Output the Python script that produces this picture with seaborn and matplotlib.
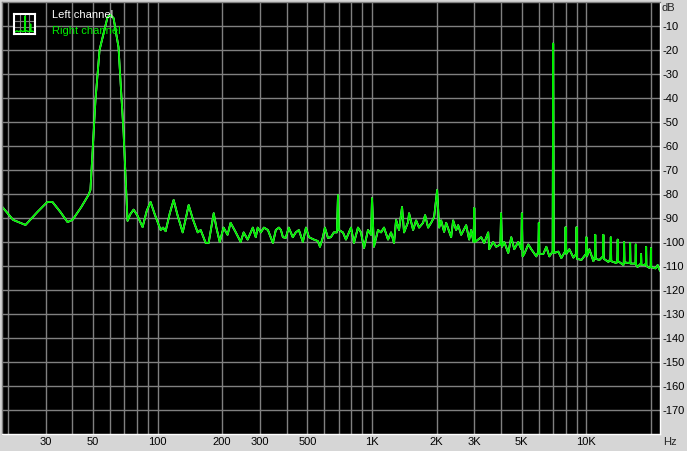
import matplotlib
matplotlib.use("Agg")
import matplotlib.pyplot as plt
import seaborn as sns
import pandas as pd
from matplotlib.ticker import FixedLocator, NullFormatter

# spectrum (Hz, dB)
freq_hz = [
    18.9, 21.2, 24.2, 27.5, 30.6, 32.3, 35.2, 38.0, 40.1, 44.0, 47.6, 48.6, 51.3, 53.6, 58.4, 60.3, 62.3,
    65.7, 69.4, 72.4, 74.5, 77.3, 80.5, 85.1, 89.0, 92.7, 97.0, 103.3, 106, 109, 114, 118.8, 124, 130.9,
    135.5, 139.6, 146, 153.8, 158.8, 167.6, 173, 178, 182.7, 188, 194.9, 203, 212, 219, 231, 244, 252,
    263, 278, 287, 293,
    303, 313, 327, 345, 356, 368, 376, 384, 396, 409, 427, 441, 456, 476, 492, 508, 536,
    559, 572, 590, 603, 623, 643, 664, 686, 694, 701, 732, 756, 798, 824, 860, 888, 918,
    958, 990, 1000, 1021, 1067, 1102, 1138, 1188, 1227, 1267, 1295, 1337, 1381, 1411,
    1473, 1489, 1555, 1606, 1658, 1731, 1769, 1827, 1887, 1949, 2013, 2057, 2101, 2170,
    2218, 2340, 2390, 2469, 2523, 2606, 2750, 2840, 2901, 2975, 3000, 3025, 3129, 3231,
    3337, 3484, 3522, 3677, 3797, 3970, 4000, 4040, 4139, 4321, 4462, 4609, 4812, 4970,
    5000, 5040, 5131, 5358, 5534, 5841, 5970, 6000, 6040, 6297, 6504, 6717, 6960, 7000,
    7050, 7400, 7642, 7950, 8000, 8060, 8328, 8697, 8950, 9000, 9050, 9476, 9950, 10000,
    10060, 10327, 10782, 10950, 11000, 11060, 11500, 11950, 12000, 12060, 12670, 12950,
    13000, 13060, 13812, 13950, 14000, 14060, 14891, 14950, 15000, 15060, 15885, 15950,
    16000, 16060, 16950, 17000, 17060, 17312, 17950, 18000, 18060, 18664, 18950, 19000,
    19060, 19700, 19950, 20000, 20060, 21000, 21500, 22050,
]
level_db = [
    -85.5, -90.8, -92.9, -87.5, -83.3, -83.3, -87.5, -91.7, -90.8, -85.5, -80.4, -78.3, -40.8, -20.0, -6.3, -5.4, -6.7,
    -18.8, -54.6, -91.2, -88.5, -86.5, -89.0, -93.8, -87.0, -83.3, -88.5, -95.0, -94.0, -95.5, -88.0, -82.5, -89.0, -96.0,
    -90.0, -84.6, -90.5, -96.0, -95.0, -100.4, -100.4, -94.0, -88.0, -94.0, -100.0, -94.0, -97.0, -92.0, -95.8, -100.0, -96.0,
    -99.0, -94.0, -98.0, -94.0,
    -96.0, -94.0, -95.0, -100.4, -95.0, -94.0, -95.0, -98.0, -98.3, -94.0, -98.0, -96.0, -95.0, -100.0, -94.0, -98.0, -99.0,
    -99.6, -102.0, -98.0, -94.0, -98.3, -98.0, -96.0, -96.0, -80.4, -95.0, -96.0, -99.0, -94.0, -100.4, -94.0, -96.0, -102.5,
    -95.0, -97.0, -81.7, -102.0, -95.0, -96.0, -94.0, -99.0, -96.0, -100.4, -90.8, -95.0, -85.4, -96.0,
    -91.7, -88.0, -95.0, -91.0, -94.0, -92.0, -88.8, -94.0, -92.0, -89.6, -78.3, -94.0, -91.0, -95.8,
    -92.0, -98.0, -91.0, -95.0, -93.0, -97.0, -93.0, -99.0, -95.0, -100.0, -85.8, -100.0, -99.0, -98.0,
    -100.4, -96.0, -103.0, -100.0, -102.0, -101.0, -88.0, -102.0, -100.0, -104.6, -98.0, -103.0, -100.0, -103.0,
    -88.0, -106.0, -105.0, -101.0, -103.0, -106.0, -104.0, -92.0, -105.0, -105.0, -102.0, -106.0, -104.0, -17.3,
    -104.6, -104.0, -106.7, -104.0, -93.8, -105.0, -103.0, -106.5, -105.0, -93.8, -107.0, -107.5, -105.0, -98.0,
    -106.0, -103.0, -108.0, -106.0, -97.0, -107.0, -107.5, -106.0, -97.0, -107.0, -108.3, -107.0,
    -98.0, -108.0, -108.8, -107.0, -99.0, -108.0, -109.6, -108.0, -100.0, -108.5, -108.8, -108.0,
    -100.4, -109.0, -109.0, -101.0, -109.5, -110.4, -109.0, -105.0, -109.5, -109.6, -109.0, -102.0,
    -110.0, -110.8, -110.0, -102.5, -110.5, -111.0, -109.6, -112.0,
]

# tiny spectrum drawn inside the legend icon
icon_x = [0, 1, 2, 3, 4, 5, 5.2, 5.4, 6, 7, 8, 8.2, 8.4, 9, 10]
icon_y = [1.0, 1.6, 1.1, 1.8, 1.2, 1.5, 9.0, 1.3, 1.7, 1.2, 1.4, 5.0, 1.2, 1.5, 1.1]

x_major = [30, 50, 100, 200, 300, 500, 1000, 2000, 3000, 5000, 10000]
x_labels = ["30", "50", "100", "200", "300", "500", "1K", "2K", "3K", "5K", "10K"]
x_grid = [20, 30, 40, 50, 60, 70, 80, 90, 100, 200, 300, 400, 500, 600, 700, 800, 900,
          1000, 2000, 3000, 4000, 5000, 6000, 7000, 8000, 9000, 10000, 20000]
y_ticks = list(range(-170, 0, 10))

GREEN = "#00f000"
GRID = "#808080"

sns.set_style("dark", {"axes.facecolor": "black", "figure.facecolor": "#d6d6d6",
                       "grid.color": GRID})
plt.rcParams["font.family"] = ["Liberation Sans", "DejaVu Sans"]
plt.rcParams["font.size"] = 8

df = pd.DataFrame({"freq": freq_hz, "db": level_db})

W, H = 687, 451
fig = plt.figure(figsize=(W / 100, H / 100), dpi=100)
ax = fig.add_axes([2 / W, 17 / H, 658 / W, 432 / H])

# left channel sits underneath the right one
sns.lineplot(data=df, x="freq", y="db", ax=ax, color="white", lw=1.3,
             estimator=None, sort=False)
sns.lineplot(data=df, x="freq", y="db", ax=ax, color=GREEN, lw=1.3,
             estimator=None, sort=False)

ax.set_xscale("log")
ax.set_xlim(18.8, 22050)
ax.set_ylim(-180, 0)
ax.xaxis.set_major_locator(FixedLocator(x_major))
ax.set_xticklabels(x_labels)
ax.xaxis.set_minor_locator(FixedLocator(x_grid))
ax.xaxis.set_minor_formatter(NullFormatter())
ax.set_yticks(y_ticks)
ax.set_yticklabels([str(v) for v in y_ticks])
ax.yaxis.tick_right()
ax.tick_params(which="both", length=0, colors="black", labelsize=8)
ax.tick_params(axis="x", pad=2)
ax.tick_params(axis="y", pad=1.5)
ax.grid(which="both", axis="x", color=GRID, lw=1)
ax.grid(which="major", axis="y", color=GRID, lw=1)
ax.set_xlabel("")
ax.set_ylabel("")
for side, col in [("left", GRID), ("top", GRID), ("bottom", "white"), ("right", "white")]:
    ax.spines[side].set_visible(True)
    ax.spines[side].set_color(col)
    ax.spines[side].set_linewidth(1)

fig.text(662 / W, 1 - 8 / H, "dB", ha="left", va="center", fontsize=8)
fig.text(663 / W, 1 - 442 / H, "Hz", ha="left", va="center", fontsize=8)

# legend
fig.text(52 / W, 1 - 15 / H, "Left channel", color="white", ha="left", va="center", fontsize=8)
fig.text(52 / W, 1 - 31 / H, "Right channel", color=GREEN, ha="left", va="center", fontsize=8)
icon = fig.add_axes([14 / W, 1 - 34 / H, 21 / W, 20 / H])
icon.set_facecolor("black")
icon.plot(icon_x, icon_y, color=GREEN, lw=1)
icon.set_xlim(-0.5, 10.5)
icon.set_ylim(0, 10)
icon.set_xticks([2.5, 5, 7.5])
icon.set_yticks([3.3, 6.6])
icon.tick_params(length=0, labelbottom=False, labelleft=False)
icon.grid(True, color=GRID, lw=0.8)
for s in icon.spines.values():
    s.set_visible(True)
    s.set_color("white")
    s.set_linewidth(1.5)

fig.savefig("out.png", dpi=100, facecolor=fig.get_facecolor())
